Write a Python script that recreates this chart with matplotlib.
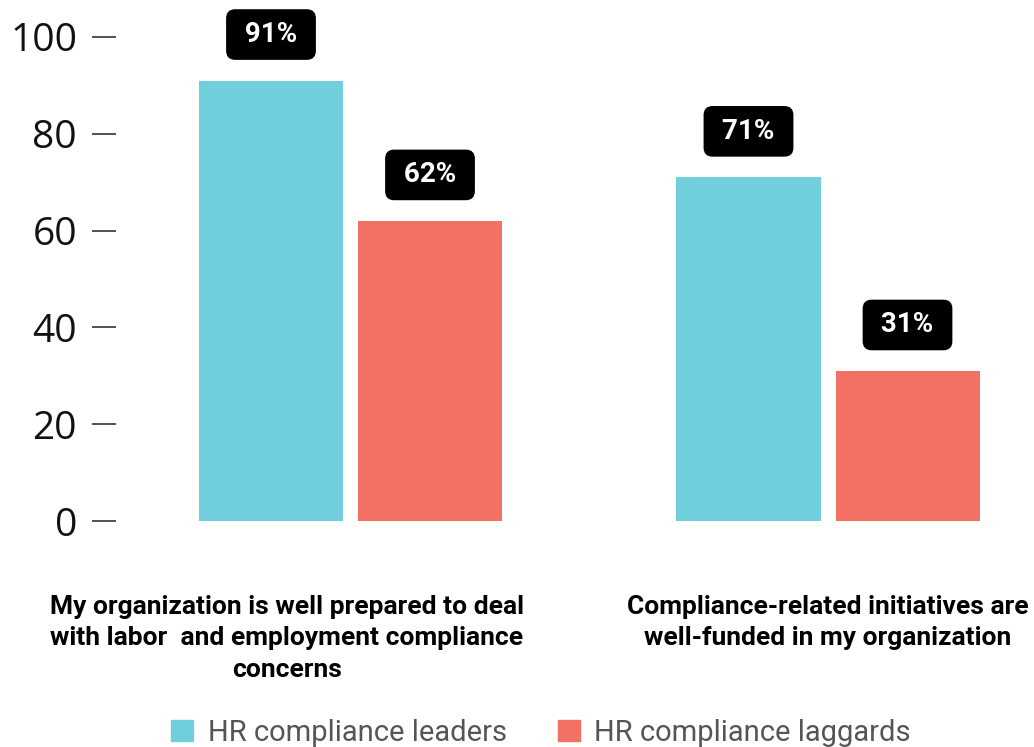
import matplotlib
matplotlib.use("Agg")
import numpy as np
from matplotlib import pyplot as plt
from matplotlib.patches import Patch

groups = ["My organization is well prepared to deal\nwith labor  and employment compliance\nconcerns",
          "Compliance-related initiatives are\nwell-funded in my organization"]
series = ["HR compliance leaders", "HR compliance laggards"]
leaders = [91, 71]
laggards = [62, 31]
yticks = [0, 20, 40, 60, 80, 100]

colors = ["#71CEDC", "#F37065"]


def main():
    fig = plt.figure(figsize=(10.34, 7.47), dpi=100)
    ax = fig.add_axes([116 / 1034, 0.3025, 1 - 116 / 1034, 0.648])

    x = np.arange(len(groups))
    w = 0.3016
    off = 0.1665
    for vals, dx, c in ((leaders, -off, colors[0]), (laggards, off, colors[1])):
        bars = ax.bar(x + dx, vals, width=w, color=c)
        for b, v in zip(bars, vals):
            ax.annotate(" %d%% " % v, (b.get_x() + b.get_width() / 2, v),
                        xytext=(0, 46), textcoords="offset pixels",
                        ha="center", va="center", color="white",
                        fontsize=20, fontweight="bold", family="Roboto",
                        bbox=dict(boxstyle="round,pad=0.4,rounding_size=0.3",
                                  fc="black", ec="black"))

    ax.set_xlim(-0.4911, 1.4314)
    ax.set_ylim(0, 100)
    ax.set_yticks(yticks)
    ax.set_yticklabels([str(t) for t in yticks], family="Open Sans",
                       fontsize=28, color="#111111")
    ax.tick_params(axis="y", length=17, width=1.1, pad=11, color="#222222")
    ax.set_xticks([])
    for s in ax.spines.values():
        s.set_visible(False)

    # category captions under each group
    label_x = [-0.133, 1.0]
    for lx, g in zip(label_x, groups):
        ax.text(lx, -15.3, g, ha="center", va="top", fontsize=19,
                fontweight="bold", family="Roboto", linespacing=1.38,
                clip_on=False)

    handles = [Patch(color=c) for c in colors]
    fig.legend(handles, series, loc="center", bbox_to_anchor=(0.523, 0.019),
               ncol=2, frameon=False, prop={"family": "Roboto", "size": 21},
               labelcolor="#555555", handlelength=0.76, handleheight=0.7,
               handletextpad=0.5, columnspacing=1.75)

    fig.savefig("out.png", dpi=100)


if __name__ == '__main__':
    main()
